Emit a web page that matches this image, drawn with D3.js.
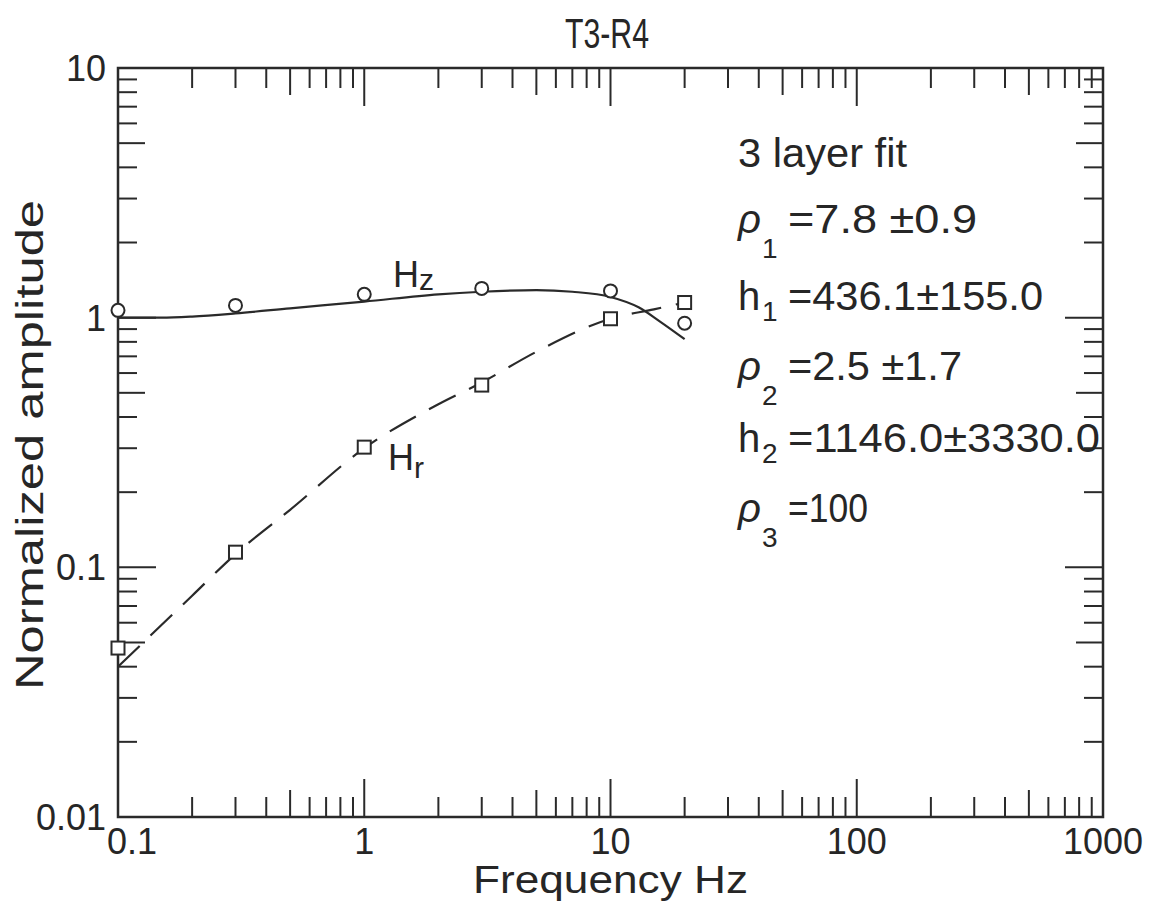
<!DOCTYPE html>
<html>
<head>
<meta charset="utf-8">
<script src="https://cdn.jsdelivr.net/npm/d3@7/dist/d3.min.js"></script>
<style>
  html, body { margin: 0; padding: 0; background: #fff; }
  svg text { font-family: "Liberation Sans", "DejaVu Sans", sans-serif; fill: #262626; }
</style>
</head>
<body>
<svg id="chart" width="1156" height="917"></svg>
<script>
// ---------- data ----------
const title = "T3-R4";
const xLabel = "Frequency Hz";
const yLabel = "Normalized amplitude";
const xDecades = [0.1, 1, 10, 100, 1000];
const xDecadeLabels = ["0.1", "1", "10", "100", "1000"];
const yDecades = [0.01, 0.1, 1, 10];
const yDecadeLabels = ["0.01", "0.1", "1", "10"];
const minorMultipliers = [2, 3, 4, 5, 6, 7, 8, 9];

// measured points
const hzFreq = [0.1, 0.3, 1, 3, 10, 20];
const hzValues = [1.07, 1.12, 1.24, 1.31, 1.28, 0.95];
const hrFreq = [0.1, 0.3, 1, 3, 10, 20];
const hrValues = [0.0475, 0.115, 0.303, 0.537, 0.99, 1.15];

// fitted curves
const hzFitFreq = [0.1, 0.15, 0.2, 0.3, 0.5, 1, 2, 3, 5, 7, 10, 13, 16, 20];
const hzFitValues = [1.0, 1.0, 1.01, 1.04, 1.09, 1.16, 1.24, 1.27, 1.29, 1.27, 1.21, 1.1, 0.96, 0.82];
const hrFitFreq = [0.1, 0.2, 0.3, 0.5, 1, 2, 3, 5, 10, 15, 20];
const hrFitValues = [0.040, 0.077, 0.113, 0.17, 0.30, 0.45, 0.55, 0.73, 0.99, 1.08, 1.15];

const annotations = [
  { sym: "", sub: "", text: "3 layer fit" },
  { sym: "ρ", sub: "1", text: "=7.8 ±0.9" },
  { sym: "h", sub: "1", text: "=436.1±155.0" },
  { sym: "ρ", sub: "2", text: "=2.5 ±1.7" },
  { sym: "h", sub: "2", text: "=1146.0±3330.0" },
  { sym: "ρ", sub: "3", text: "=100" }
];
// ---------- layout ----------
const L = 118, R = 1103, T = 68, B = 817;
const ink = "#2a2a2a";
const svg = d3.select("#chart");

const x = d3.scaleLog().domain([0.1, 1000]).range([L, R]);
const y = d3.scaleLog().domain([0.01, 10]).range([B, T]);

// frame
svg.append("rect").attr("x", L).attr("y", T).attr("width", R - L).attr("height", B - T)
  .attr("fill", "none").attr("stroke", ink).attr("stroke-width", 2.5);

// ticks
const xTicks = [], yTicks = [];
xDecades.forEach(d => {
  xTicks.push({ v: d, len: 38 });
  if (d < 1000) minorMultipliers.forEach(m => xTicks.push({ v: d * m, len: m === 5 ? 27 : 20 }));
});
yDecades.forEach(d => {
  yTicks.push({ v: d, len: 38 });
  if (d < 10) minorMultipliers.forEach(m => yTicks.push({ v: d * m, len: m === 5 ? 27 : 19 }));
});
const tg = svg.append("g").attr("stroke", ink).attr("stroke-width", 2);
xTicks.forEach(t => {
  const px = x(t.v);
  tg.append("line").attr("x1", px).attr("x2", px).attr("y1", B).attr("y2", B - t.len);
  tg.append("line").attr("x1", px).attr("x2", px).attr("y1", T).attr("y2", T + t.len);
});
yTicks.forEach(t => {
  const py = y(t.v);
  tg.append("line").attr("x1", L).attr("x2", L + t.len).attr("y1", py).attr("y2", py);
  tg.append("line").attr("x1", R).attr("x2", R - t.len).attr("y1", py).attr("y2", py);
});

// tick labels
xDecades.forEach((d, i) => {
  const first = i === 0;
  svg.append("text").attr("x", first ? x(d) - 11 : x(d))
    .attr("y", 854).attr("text-anchor", first ? "start" : "middle")
    .attr("font-size", 36).text(xDecadeLabels[i]);
});
yDecades.forEach((d, i) => {
  svg.append("text").attr("x", 106).attr("y", y(d) + 13)
    .attr("text-anchor", "end").attr("font-size", 36).text(yDecadeLabels[i]);
});

// axis titles
svg.append("text").attr("x", 473).attr("y", 893).attr("font-size", 38)
  .attr("textLength", 275).attr("lengthAdjust", "spacingAndGlyphs").text(xLabel);
svg.append("text").attr("transform", "translate(43,690) rotate(-90)").attr("font-size", 38)
  .attr("textLength", 490).attr("lengthAdjust", "spacingAndGlyphs").text(yLabel);
svg.append("text").attr("x", 565).attr("y", 48).attr("font-size", 42)
  .attr("textLength", 84).attr("lengthAdjust", "spacingAndGlyphs").text(title);

// curves
const line = d3.line().curve(d3.curveMonotoneX).x(d => x(d[0])).y(d => y(d[1]));
svg.append("path").attr("d", line(hzFitFreq.map((f, i) => [f, hzFitValues[i]])))
  .attr("fill", "none").attr("stroke", ink).attr("stroke-width", 2.2);
svg.append("path").attr("d", line(hrFitFreq.map((f, i) => [f, hrFitValues[i]])))
  .attr("fill", "none").attr("stroke", ink).attr("stroke-width", 2.2)
  .attr("stroke-dasharray", "30,15");

// markers
svg.append("g").selectAll("circle").data(hzFreq).join("circle")
  .attr("cx", d => x(d)).attr("cy", (d, i) => y(hzValues[i])).attr("r", 6.5)
  .attr("fill", "#fff").attr("stroke", ink).attr("stroke-width", 2);
svg.append("g").selectAll("rect").data(hrFreq).join("rect")
  .attr("x", d => x(d) - 6.5).attr("y", (d, i) => y(hrValues[i]) - 6.5)
  .attr("width", 13).attr("height", 13)
  .attr("fill", "#fff").attr("stroke", ink).attr("stroke-width", 2);

// series labels
const hzL = svg.append("text").attr("x", 393).attr("y", 287).attr("font-size", 36);
hzL.append("tspan").text("H");
hzL.append("tspan").attr("font-size", 30).attr("dy", 3).text("z");
const hrL = svg.append("text").attr("x", 388).attr("y", 470).attr("font-size", 36);
hrL.append("tspan").text("H");
hrL.append("tspan").attr("font-size", 30).attr("dy", 8).text("r");

// annotation block
const baselines = [167, 233, 310, 380, 452, 522];
const ends = [907, 977, 1043, 962, 1100, 868];
annotations.forEach((a, i) => {
  const by = baselines[i];
  if (!a.sym) {
    svg.append("text").attr("x", 738).attr("y", by).attr("font-size", 40)
      .attr("textLength", ends[i] - 738).attr("lengthAdjust", "spacingAndGlyphs").text(a.text);
    return;
  }
  svg.append("text").attr("x", 738).attr("y", by).attr("font-size", 40)
    .attr("font-style", a.sym === "ρ" ? "italic" : "normal").text(a.sym);
  svg.append("text").attr("x", 762).attr("y", by + (a.sym === "ρ" ? 25 : 11)).attr("font-size", 28).text(a.sub);
  svg.append("text").attr("x", 788).attr("y", by).attr("font-size", 40)
    .attr("textLength", ends[i] - 788).attr("lengthAdjust", "spacingAndGlyphs").text(a.text);
});
</script>
</body>
</html>
